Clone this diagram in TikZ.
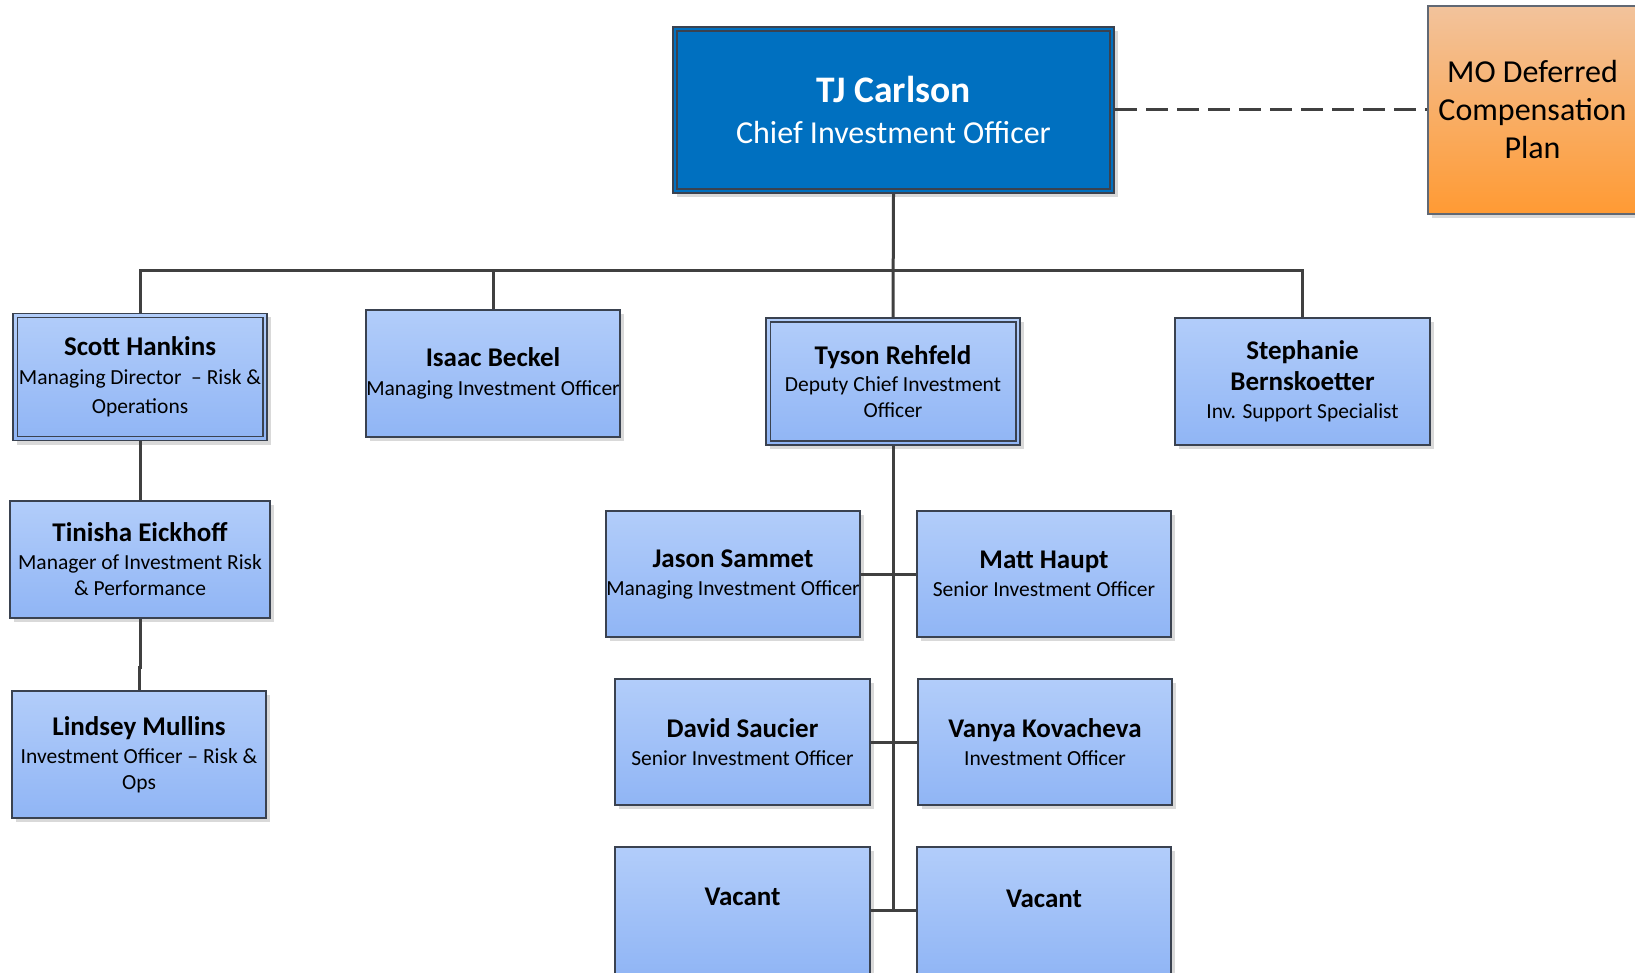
\documentclass[tikz,border=0pt]{standalone}
\usepackage{fontspec}
\setmainfont{Carlito}
\usetikzlibrary{shadows,calc}
\definecolor{lnc}{HTML}{404040}
\definecolor{bdr}{HTML}{3A4250}
\definecolor{ltop}{HTML}{B2CDFA}
\definecolor{lbot}{HTML}{90B5F5}
\definecolor{ceo}{HTML}{0070C0}
\definecolor{otop}{HTML}{F2C39C}
\definecolor{obot}{HTML}{FF9A33}
\tikzset{
  shad/.style={drop shadow={fill=black!15, opacity=1, shadow xshift=4pt, shadow yshift=-4pt}},
  card/.style={draw=bdr, line width=1.5pt, top color=ltop, bottom color=lbot,
    minimum width=254pt, minimum height=127pt, inner sep=0pt, align=center,
    font=\fontsize{21.5}{26}\selectfont, shad},
  conn/.style={draw=lnc, line width=3pt},
  inframe/.style={draw=bdr, line width=1.5pt},
}
\newcommand\pname[1]{{\fontsize{27}{30}\selectfont\bfseries #1}}
\begin{document}
\begin{tikzpicture}[x=1pt,y=-1pt]
\useasboundingbox (0,0) rectangle (1635,973);
\begin{scope}
\clip (0,0) rectangle (1635,973);
% top
\node[draw=bdr, line width=2pt, fill=ceo, minimum width=441pt, minimum height=166pt,
  text=white, align=center, inner sep=0pt, font=\fontsize{32}{41}\selectfont, shad]
  (tj) at (893.5,110) {{\fontsize{37.5}{41}\selectfont\bfseries TJ Carlson}\\Chief Investment Officer};
\draw[inframe] ([shift={(5,5)}]tj.north west) rectangle ([shift={(-5,-5)}]tj.south east);
\node[draw=bdr!80, line width=1.5pt, top color=otop, bottom color=obot,
  minimum width=209pt, minimum height=208pt, align=center, inner sep=0pt,
  font=\fontsize{32}{38}\selectfont, shad]
  (mo) at (1532.5,110) {MO Deferred\\Compensation\\Plan};
% second row
\node[card] (scott) at (140,377) {\pname{Scott Hankins}\\[3pt]Managing Director\ \ -- Risk \&\\[3pt]Operations};
\draw[inframe] ([shift={(5,5)}]scott.north west) rectangle ([shift={(-5,-5)}]scott.south east);
\node[card] (isaac) at (493,373.5) {\pname{Isaac Beckel}\\[3pt]Managing Investment Officer};
\node[card] (tyson) at (893,381.5) {\pname{Tyson Rehfeld}\\[1pt]Deputy Chief Investment\\Officer};
\draw[inframe] ([shift={(5,5)}]tyson.north west) rectangle ([shift={(-5,-5)}]tyson.south east);
\node[card, minimum width=255pt] (steph) at (1302.5,381.5) {\pname{Stephanie}\\[5pt]\pname{Bernskoetter}\\[2pt]Inv. Support Specialist};
% left column
\node[card, minimum width=260pt, minimum height=117pt] (tin) at (140,559.5) {\pname{Tinisha Eickhoff}\\[2pt]Manager of Investment Risk\\\& Performance};
\node[card] (lin) at (139,754.5) {\pname{Lindsey Mullins}\\[2pt]Investment Officer -- Risk \&\\Ops};
% under Tyson
\node[card, minimum height=126pt] (jason) at (733,574) {\pname{Jason Sammet}\\[2pt]Managing Investment Officer};
\node[card, minimum height=126pt] (matt) at (1044,574) {\pname{Matt Haupt}\\[2pt]Senior Investment Officer};
\node[card, minimum width=255pt, minimum height=126pt] (david) at (742.5,742) {\pname{David Saucier}\\[2pt]Senior Investment Officer};
\node[card, minimum height=126pt] (vanya) at (1045,742) {\pname{Vanya Kovacheva}\\[2pt]Investment Officer};
\node[card, minimum width=255pt, minimum height=130pt] (vacl) at (742.5,912) {\pname{Vacant}\\[4pt]\mbox{}};
\node[card, minimum height=130pt] (vacr) at (1044,912) {\pname{Vacant}\\[0pt]\mbox{}};
% connectors
\coordinate (bus) at (893,271);
\draw[conn, dash pattern=on 22pt off 9pt] (tj.east) -- (mo.west);
\draw[conn] (tj.south) -- (tyson.north);
\draw[conn] (scott.north) |- (bus) -| (steph.north);
\draw[conn] (isaac.north) -- (isaac.north |- bus);
\draw[conn] (scott.south) -- (tin.north);
\draw[conn] (tin.south) -- ++(0,49) -| (lin.north);
\draw[conn] (tyson.south) -- (tyson.south |- 0,910);
\draw[conn] (jason.east) -- (matt.west);
\draw[conn] (david.east) -- (vanya.west);
\draw[conn] (vacl.east |- 0,910) -- (vacr.west |- 0,910);
\end{scope}
\end{tikzpicture}
\end{document}
